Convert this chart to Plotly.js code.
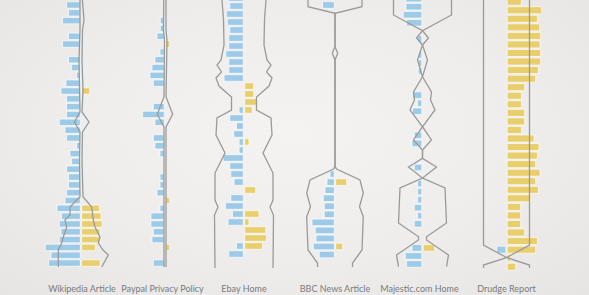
<!DOCTYPE html>
<html><head><meta charset="utf-8">
<script src="https://cdn.plot.ly/plotly-3.0.1.min.js"></script>
<style>
html,body{margin:0;padding:0;}
body{background:radial-gradient(ellipse at 50% 45%, #f4f3f2 0%, #eeedec 55%, #e6e5e4 100%);}
#chart{width:589px;height:295px;}
</style>
</head><body><div id="chart"></div>
<script>
// ---- data ----
const names = ["Wikipedia Article", "Paypal Privacy Policy", "Ebay Home", "BBC News Article", "Majestic.com Home", "Drudge Report"];

// Wikipedia: rows 0..33
const wikiStart = 0;
const wikiBlue = [13.7, 11.7, 17.7, null, 11.7, 17.7, null, 11.7, 8.7, 3.7, 14.3, 19.3, 13.7, 13.7, 13.7, 21, 15.3, 13.7, 3.7, 10.3, 8.7, 13.7, 11.7, 11.7, 13.7, 15.3, 23.3, 18.7, 21, 19.3, 21, 35, 29.3, 31.7];
const wikiYellow = [null, null, null, null, null, null, null, null, null, null, null, 8, null, null, null, null, null, null, null, null, null, null, null, null, null, null, 17.7, 19.4, 20.4, 18.4, 18.4, 13.7, null, 18.4];
const wikiLineRow = [-1.28, 0.64, 1.92, 3.2, 7.03, 10.87, 13.68, 14.96, 16.24, 19.82, 24.51, 25.83, 26.85, 27.49, 28.39, 29.67, 30.43, 31.33, 31.97, 33.5];
const wikiLineL = [-1, -1, -1.5, -1, -2, -1, -1, -6.5, -1, -1.5, -1, -11, -11, -16, -14.3, -17.7, -19.3, -22.7, -22.7, -22.7];
const wikiLineR = [1, 2.5, 3, 1.5, 1, 2, 1, 8, 1.5, 1, 2, 10.7, 11.5, 12.3, 14, 19, 17.3, 22, 27.3, 20.7];

// Paypal: rows -1..33
const payStart = -1;
const payBlue = [4.3, null, null, 4, 4, 7.3, null, 4.3, 9.3, 12.3, 14.3, 11, null, null, 11, 21.7, 9.3, null, 11, 9.3, 4.3, null, null, 4.3, 4.3, 7.3, null, 4.3, 13.3, 13.3, 11, 12.3, null, null, 11];
const payYellow = [null, null, null, null, null, null, 4, null, null, null, null, null, null, null, null, null, null, null, null, null, null, null, null, null, null, null, 4, null, null, null, null, null, 4, null, null];
const payLineRow = [-1.28, 3.2, 4.48, 11.73, 13.98, 15.6, 33.5];
const payLineL = [-1.2, -1.5, -0.5, -1, -7.7, -1, -1];
const payLineR = [1, 1, 2, 1, 7.7, 1, 1];

// Ebay: rows -1..31
const ebayStart = -1;
const ebayBlue = [15, 13.5, 17, 16, 13.5, 14.5, 14.5, 17.5, 14.5, 14.5, 19.2, null, null, null, 4.2, 13.5, 6.8, 9.5, 4.2, 4.2, 20.2, 13.5, 12.5, 9.2, null, 12.5, 17.8, 10.8, 15.2, null, null, 6.8, 14.5];
const ebayYellow = [null, null, null, null, null, null, null, null, null, null, null, 9, 9, 12.5, 7.5, null, null, null, 4.3, null, null, null, null, null, 11, null, null, 14.3, 4.3, 21, 21.7, 17.7, null];
const ebayLineRow = [-1.38, -0.75, 1.75, 4.88, 6.75, 7.38, 8.25, 9, 10, 11.38, 13, 14, 16.13, 18.38, 20.88, 24.25, 25.13, 26.13, 32.75];
const ebayLineHalf = [22, 22, 20.5, 20, 23, 27, 22.5, 28, 25, 12.5, 12.5, 27, 28, 19, 29, 29, 26, 29.5, 29];

// BBC: rows 0..31
const bbcStart = 0;
const bbcBlue = [11.7, null, null, null, null, null, null, null, null, null, null, null, null, null, null, null, null, null, null, null, null, 4.3, 7.3, 9.3, 11, 10, 10, 22.3, 19, 18.3, 21, 15];
const bbcYellow = [null, null, null, null, null, null, null, null, null, null, null, null, null, null, null, null, null, null, null, null, null, null, 11, null, null, null, null, null, null, null, 7, null];
const bbcLineRow = [-1.24, 0.21, 1.03, 5.18, 6.0, 6.83, 20.09, 20.37, 21.74, 23.35, 25.06, 26.3, 30.43, 32.05, 32.55];
const bbcLineHalf = [27, 27, 0, 0, 2.7, 0, 0, 1.5, 25, 28.3, 24.5, 28.3, 27, 17.5, 17.5];

// Majestic: rows -1..32
const majStart = -1;
const majBlue = [16, 15.8, 18.5, 15.2, null, 4.2, null, 3.5, 3.5, 3.5, null, null, 9.2, 4.2, 9.2, null, null, 7.5, 9.8, null, null, 7.5, null, 4.2, 4.2, 4.2, 7.5, 4.2, 7.5, null, null, 9.8, 16.5, 15.2];
const majYellow = [null, null, null, null, null, null, null, null, null, null, null, null, null, null, null, null, null, null, null, null, null, null, null, null, null, null, null, null, null, null, null, 11.5, null, null];
const majLineRow = [-1.46, 1.03, 2.99, 3.89, 4.76, 6.63, 8.71, 10.61, 11.6, 12.85, 14.93, 16.58, 17.82, 18.86, 19.94, 21.31, 22.55, 26.9, 28.61, 29.02, 30.88, 32.34];
const majLineHalf = [29, 29, 0, 6, 0, 5, 0, 9, 8, 12.5, 0, 9, 0, 0, 14, 0, 22.5, 24, 4, 4, 26, 24];

// Drudge: rows 0..31
const drudgeStart = 0;
const drudgeBlue = [null, null, null, null, null, null, null, null, null, null, null, null, null, null, null, null, null, null, null, null, null, null, null, null, null, null, null, null, null, 9, null, null];
const drudgeYellow = [14.2, 34.5, 30.2, 32.5, 33.5, 32.8, 33.5, 33.5, 31.2, 28.5, 17.5, 14.2, 14.2, 17.5, 17.5, 14.2, 26.8, 31.8, 30.2, 28.5, 32.8, 28.5, 31.2, 23.5, 13.5, 13.5, 13.5, 17.5, 30.2, 28.5, 3, 8.5];
const drudgeLineRow = [-0.78, 28.46, 29.92, 30.8, 31.15];
const drudgeLineHalf = [23, 23, 0, 23, 23];

// ---- layout / style ----
const W = 589, H = 295, BOTTOM = 13, PLOT_H = H - BOTTOM;
const centers = [81, 165, 244, 335, 422.5, 506.5];
const labelShift = [1, -2.5, 0, 0, -3, 0];
const rowTop = [5, 5, 6, 5, 6.7, 1.7];
const rowPitch = [7.82, 7.82, 8, 8.05, 8.04, 8.55];
const HALF = 40;
const BLUE = '#9dcae6', YELLOW = '#e8ce6c', LINE = '#9a9a9a';

const cols = [
  {start: wikiStart, blue: wikiBlue, yellow: wikiYellow, lr: wikiLineRow, ll: wikiLineL, rl: wikiLineR},
  {start: payStart, blue: payBlue, yellow: payYellow, lr: payLineRow, ll: payLineL, rl: payLineR},
  {start: ebayStart, blue: ebayBlue, yellow: ebayYellow, lr: ebayLineRow, half: ebayLineHalf},
  {start: bbcStart, blue: bbcBlue, yellow: bbcYellow, lr: bbcLineRow, half: bbcLineHalf},
  {start: majStart, blue: majBlue, yellow: majYellow, lr: majLineRow, half: majLineHalf},
  {start: drudgeStart, blue: drudgeBlue, yellow: drudgeYellow, lr: drudgeLineRow, half: drudgeLineHalf}
];

const traces = [];
const layout = {
  width: W, height: H,
  margin: {l: 0, r: 0, t: 0, b: BOTTOM, pad: 0},
  paper_bgcolor: 'rgba(0,0,0,0)', plot_bgcolor: 'rgba(0,0,0,0)',
  showlegend: false, barmode: 'overlay', hovermode: false
};

cols.forEach((c, k) => {
  const s = k === 0 ? '' : String(k + 1);
  const rows = c.blue.map((_, i) => c.start + i);
  const barLine = {color: 'rgba(255,255,255,0.85)', width: 0.8};
  traces.push({type: 'bar', orientation: 'h', xaxis: 'x' + s, yaxis: 'y' + s,
    y: rows, x: c.blue.map(v => v == null ? null : -v), base: -0.7, width: 0.82,
    marker: {color: BLUE, line: barLine}});
  traces.push({type: 'bar', orientation: 'h', xaxis: 'x' + s, yaxis: 'y' + s,
    y: rows, x: c.yellow, base: 0.7, width: 0.82,
    marker: {color: YELLOW, line: barLine}});
  const L = c.half ? c.half.map(v => -v) : c.ll;
  const R = c.half ? c.half : c.rl;
  [L, R].forEach(xs => traces.push({type: 'scatter', mode: 'lines', xaxis: 'x' + s, yaxis: 'y' + s,
    x: xs, y: c.lr, line: {color: LINE, width: 1.3}}));
  const cx = centers[k];
  layout['xaxis' + s] = {
    domain: [(cx - HALF) / W, (cx + HALF) / W], range: [-HALF, HALF],
    tickvals: [labelShift[k]], ticktext: [names[k]], ticks: '',
    showgrid: false, zeroline: false, showline: false, fixedrange: true,
    tickfont: {family: 'Lato, "Open Sans", sans-serif', size: 9, color: '#7a7a7a'},
    anchor: 'y' + s
  };
  layout['yaxis' + s] = {
    domain: [0, 1], range: [(PLOT_H - rowTop[k]) / rowPitch[k], -rowTop[k] / rowPitch[k]],
    visible: false, fixedrange: true, anchor: 'x' + s
  };
});

Plotly.newPlot('chart', traces, layout, {staticPlot: true, displayModeBar: false});
</script>
</body></html>
